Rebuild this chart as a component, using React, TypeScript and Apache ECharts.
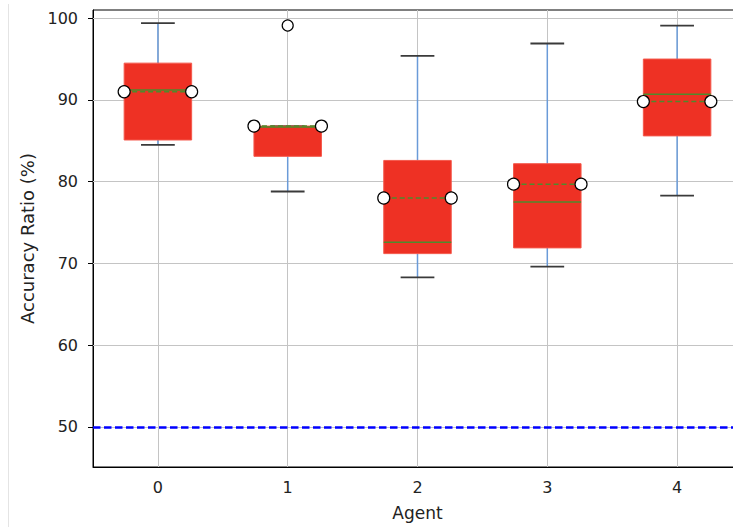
import React, { useEffect, useRef } from "react";
import * as echarts from "echarts";

const agents = ["0", "1", "2", "3", "4"];
const whiskerLow = [84.5, 78.8, 68.3, 69.6, 78.3];
const q1 = [85.1, 83.1, 71.2, 71.9, 85.6];
const median = [91.2, 86.7, 72.6, 77.5, 90.7];
const q3 = [94.5, 86.8, 82.6, 82.2, 95.0];
const whiskerHigh = [99.4, 86.8, 95.4, 96.9, 99.1];
const means = [91.0, 86.8, 78.0, 79.7, 89.8];
const outliers: [number, number][] = [[1, 99.1]];
const chanceLevel = 50;
const yTicks = [50, 60, 70, 80, 90, 100];

const FONT = "DejaVu Sans";

export default function App() {
  const ref = useRef<HTMLDivElement>(null);
  useEffect(() => {
    if (!ref.current) return;
    const chart = echarts.init(ref.current, null, { renderer: "svg" });
    const boxData = agents.map((_, i) => [i, whiskerLow[i], q1[i], median[i], q3[i], whiskerHigh[i], means[i]]);
    const gridLines: any[] = [
      ...yTicks.map((v) => ({ yAxis: v })),
      ...agents.map((_, i) => ({ xAxis: i })),
    ];
    chart.setOption({
      animation: false,
      backgroundColor: "#fff",
      grid: {
        left: 93,
        top: 10,
        width: 649,
        height: 457,
        show: true,
        borderColor: "#000",
        borderWidth: 1,
        backgroundColor: "transparent",
      },
      xAxis: {
        type: "category",
        data: agents,
        boundaryGap: true,
        name: "Agent",
        nameLocation: "middle",
        nameGap: 37,
        nameTextStyle: { fontFamily: FONT, fontSize: 17, color: "#222" },
        axisLine: { lineStyle: { color: "#000", width: 1 } },
        axisTick: { alignWithLabel: true, length: 5, lineStyle: { color: "#000" } },
        axisLabel: { margin: 12, fontFamily: FONT, fontSize: 16, color: "#222" },
        splitLine: { show: false },
      },
      yAxis: {
        type: "value",
        min: 45.1,
        max: 101,
        name: "Accuracy Ratio (%)",
        nameLocation: "middle",
        nameGap: 53,
        nameTextStyle: { fontFamily: FONT, fontSize: 18, color: "#222" },
        axisLine: { show: true, lineStyle: { color: "#000", width: 1 } },
        axisTick: { show: true, length: 5, customValues: yTicks, lineStyle: { color: "#000" } },
        axisLabel: { margin: 15, fontFamily: FONT, fontSize: 16, color: "#222", customValues: yTicks },
        splitLine: { show: false },
      },
      graphic: [
        {
          type: "line",
          shape: { x1: 8.5, y1: 4, x2: 8.5, y2: 527 },
          style: { stroke: "#e4e4e4", lineWidth: 1 },
        },
      ],
      series: [
        {
          type: "line",
          data: [],
          z: 1,
          silent: true,
          markLine: {
            z: 1,
            silent: true,
            symbol: ["none", "none"],
            label: { show: false },
            lineStyle: { type: "solid", color: "#c4c4c4", width: 1 },
            data: gridLines,
          },
        },
        {
          type: "custom",
          z: 10,
          data: boxData,
          encode: { x: 0, y: [1, 2, 3, 4, 5, 6] },
          renderItem: (params: any, api: any) => {
            const x = api.value(0);
            const pLow = api.coord([x, api.value(1)]);
            const pQ1 = api.coord([x, api.value(2)]);
            const pMed = api.coord([x, api.value(3)]);
            const pQ3 = api.coord([x, api.value(4)]);
            const pHigh = api.coord([x, api.value(5)]);
            const pMean = api.coord([x, api.value(6)]);
            const band = api.size([1, 0])[0];
            const bw = band * 0.52;
            const cw = band * 0.26;
            const cx = pQ1[0];
            const whiskerStyle = { stroke: "#6a9bd8", lineWidth: 1.5 };
            const capStyle = { stroke: "#3a3a3a", lineWidth: 1.8 };
            return {
              type: "group",
              children: [
                { type: "line", shape: { x1: cx, y1: pQ3[1], x2: cx, y2: pHigh[1] }, style: whiskerStyle },
                { type: "line", shape: { x1: cx, y1: pQ1[1], x2: cx, y2: pLow[1] }, style: whiskerStyle },
                { type: "line", shape: { x1: cx - cw / 2, y1: pHigh[1], x2: cx + cw / 2, y2: pHigh[1] }, style: capStyle },
                { type: "line", shape: { x1: cx - cw / 2, y1: pLow[1], x2: cx + cw / 2, y2: pLow[1] }, style: capStyle },
                {
                  type: "rect",
                  shape: { x: cx - bw / 2, y: pQ3[1], width: bw, height: pQ1[1] - pQ3[1] },
                  style: { fill: "#ee3124", stroke: "#f4584b", lineWidth: 1 },
                },
                {
                  type: "line",
                  shape: { x1: cx - bw / 2, y1: pMed[1], x2: cx + bw / 2, y2: pMed[1] },
                  style: { stroke: "#4e8a2c", lineWidth: 1.5 },
                },
                {
                  type: "line",
                  shape: { x1: cx - bw / 2, y1: pMean[1], x2: cx + bw / 2, y2: pMean[1] },
                  style: { stroke: "#4e8a2c", lineWidth: 1.5, lineDash: [5, 3] },
                },
                {
                  type: "circle",
                  shape: { cx: cx - bw / 2, cy: pMean[1], r: 6 },
                  style: { fill: "#fff", stroke: "#000", lineWidth: 1.2 },
                },
                {
                  type: "circle",
                  shape: { cx: cx + bw / 2, cy: pMean[1], r: 6 },
                  style: { fill: "#fff", stroke: "#000", lineWidth: 1.2 },
                },
              ],
            };
          },
        },
        {
          type: "scatter",
          z: 11,
          data: outliers,
          symbol: "circle",
          symbolSize: 11,
          itemStyle: { color: "#fff", borderColor: "#000", borderWidth: 1.2, opacity: 1 },
        },
        {
          type: "line",
          data: [],
          z: 12,
          silent: true,
          markLine: {
            z: 12,
            silent: true,
            symbol: ["none", "none"],
            label: { show: false },
            lineStyle: { type: [7.5, 3.5], color: "#0000ff", width: 2.5 },
            data: [{ yAxis: chanceLevel }],
          },
        },
      ],
    });
    return () => chart.dispose();
  }, []);
  return (
    <div style={{ position: "absolute", left: 0, top: 0, width: 733, height: 527, overflow: "hidden" }}>
      <div ref={ref} style={{ width: 760, height: 527 }} />
    </div>
  );
}
